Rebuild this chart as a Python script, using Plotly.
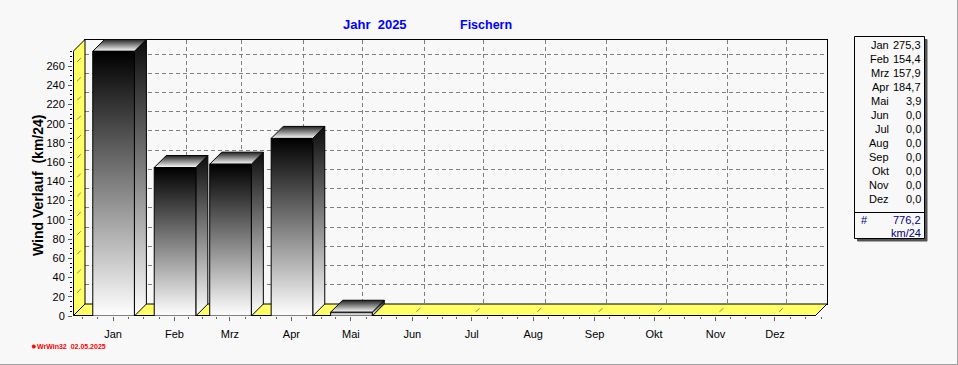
import plotly.graph_objects as go

# ---- data ----
months = ["Jan", "Feb", "Mrz", "Apr", "Mai", "Jun", "Jul", "Aug", "Sep", "Okt", "Nov", "Dez"]
month_start_day = [0, 31, 59, 90, 120, 151, 181, 212, 243, 273, 304, 334]
wind = [275.3, 154.4, 157.9, 184.7, 3.9, 0.0, 0.0, 0.0, 0.0, 0.0, 0.0, 0.0]
total = 776.2
y_ticks = list(range(0, 261, 20))
title_left = "Jahr\u00a0\u00a02025"
title_right = "Fischern"
y_title = "Wind Verlauf\u00a0\u00a0(km/24)"
footer = "WrWin32\u00a0\u00a002.05.2025"
unit = "km/24"

# ---- geometry (pixels) ----
W, H = 958, 365
PX_DAY, PX_UNIT = 1.982, 0.9615
DEPTH = 12
LEFT, RIGHT, BOTTOM, TOP = 73, 815, 316, 51.5
DAY0 = -20.18
dx, dy = DEPTH / PX_DAY, DEPTH / PX_UNIT
DAY1 = DAY0 + (RIGHT - LEFT) / PX_DAY
YMAX = (BOTTOM - TOP) / PX_UNIT
BAR_L, BAR_R = -10.2, 10.8
YELLOW = "#ffff66"
BG = "#f8f8f8"
GRID = "#808080"
MIN_SPAN = 10


def fx(p):
    return p / W


def fy(p):
    return 1 - p / H


fig = go.Figure()
F = dict(xaxis="x2", yaxis="y2", mode="lines", hoverinfo="skip", showlegend=False)

# keeps the back-wall axes alive
fig.add_trace(go.Scatter(x=[DAY0], y=[0], mode="none", hoverinfo="skip", showlegend=False))


def poly(xs, ys, fill=None, grad=None, width=1, color="black"):
    kw = dict(F)
    kw.update(x=xs + xs[:1], y=ys + ys[:1], line=dict(color=color, width=width))
    kw["fill"] = "toself"
    if grad:
        kw["fillgradient"] = dict(type="vertical", colorscale=[[0, grad[2]], [1, grad[3]]],
                                  start=grad[0], stop=grad[1])
    else:
        kw["fillcolor"] = fill
    fig.add_trace(go.Scatter(**kw))


def seg(xs, ys, width=1, color="black", dash="solid"):
    fig.add_trace(go.Scatter(x=xs, y=ys, line=dict(color=color, width=width, dash=dash), **F))


# side wall and floor
poly([DAY0, DAY0 + dx, DAY0 + dx, DAY0], [0, dy, YMAX + dy, YMAX], fill=YELLOW)
poly([DAY0, DAY0 + dx, DAY1 + dx, DAY1], [0, dy, dy, 0], fill=YELLOW)

# short grid stubs on the wall and floor
for v in y_ticks[1:]:
    seg([DAY0 + .35 * dx, DAY0 + .65 * dx], [v + .35 * dy, v + .65 * dy], color=GRID)
for d in month_start_day:
    seg([d + .35 * dx, d + .65 * dx], [.35 * dy, .65 * dy], color=GRID)

# heavy front edges
seg([DAY0, DAY1], [0, 0], width=2)
seg([DAY0, DAY0], [0, YMAX], width=2)

# bars
for d, v in zip(month_start_day, wind):
    if v <= 0:
        continue
    x0, x1 = d + BAR_L, d + BAR_R
    poly([x1, x1 + dx, x1 + dx, x1], [0, dy, v + dy, v], grad=(0, v + dy, "#ffffff", "#0c0c0c"))
    poly([x0, x1, x1 + dx, x0 + dx], [v, v, v + dy, v + dy], grad=(v, v + dy, "#ffffff", "#222222"))
    poly([x0, x1, x1, x0], [0, 0, v, v], grad=(0, max(v, MIN_SPAN), "#ffffff", "#000000"))

# ---- annotations ----
ann = []


def text(px, py, s, anchor="center", size=11, color="black", bold=False, angle=0):
    ann.append(dict(xref="paper", yref="paper", x=fx(px), y=fy(py), text=f"<b>{s}</b>" if bold else s,
                    showarrow=False, xanchor=anchor, yanchor="middle", textangle=angle,
                    font=dict(family="Liberation Sans", size=size, color=color),
                    borderpad=0, borderwidth=0))


text(374.5, 24.5, title_left, size=13, color="#0000ff", bold=True)
text(486, 24.5, title_right, size=12.5, color="#0000ff", bold=True)
text(38, 186, y_title, size=14, bold=True, angle=-90)
text(37, 346.5, footer, anchor="left", size=7, color="#ff0000", bold=True)

LEG_Y0, LEG_STEP = 45, 14.03
for i, (m, v) in enumerate(zip(months, wind)):
    yy = LEG_Y0 + i * LEG_STEP
    text(888.5, yy, m, anchor="right")
    text(920.5, yy, f"{v:.1f}".replace(".", ","), anchor="right")
text(864, 220, "#", color="#000080")
text(920.5, 220, f"{total:.1f}".replace(".", ","), anchor="right", color="#000080")
text(920.5, 232.5, unit, anchor="right", color="#000080")


def rect(x0, y0, x1, y1, fill="rgba(0,0,0,0)", line="black", w=1):
    return dict(type="rect", xref="paper", yref="paper", x0=fx(x0), x1=fx(x1), y0=fy(y0), y1=fy(y1),
                fillcolor=fill, line=dict(color=line, width=w), layer="below")


shapes = [
    rect(857.5, 39.5, 927, 241, fill="#555555", line="#555555"),
    rect(854.5, 36.5, 924.5, 238.5, fill=BG),
    dict(type="line", xref="paper", yref="paper", x0=fx(854.5), x1=fx(924.5), y0=fy(212.5), y1=fy(212.5),
         line=dict(color="black", width=1)),
    dict(type="line", xref="paper", yref="paper", x0=fx(957.5), x1=fx(957.5), y0=0, y1=1,
         line=dict(color="#a0a0a0", width=1)),
    dict(type="line", xref="paper", yref="paper", x0=0, x1=1, y0=fy(364.5), y1=fy(364.5),
         line=dict(color="#a0a0a0", width=1)),
    dict(type="circle", xref="paper", yref="paper", x0=fx(32), x1=fx(35.5), y0=fy(348.3), y1=fy(344.8),
         fillcolor="#ff0000", line=dict(color="#ff0000", width=0.5)),
]

minor_days = []
for a, b in zip(month_start_day, month_start_day[1:] + [month_start_day[-1] + 31]):
    minor_days += [a + (b - a) * k / 4 for k in (1, 2, 3)]
minor_days += [month_start_day[0] - 31 * k / 4 for k in (1, 2)]
minor_vals = [v for v in range(0, 276, 5) if v % 20]

fig.update_layout(
    template="none",
    width=W, height=H, margin=dict(l=0, r=0, t=0, b=0), autosize=False,
    paper_bgcolor=BG, plot_bgcolor="rgba(0,0,0,0)",
    showlegend=False, annotations=ann, shapes=shapes,
    font=dict(family="Liberation Sans", size=11, color="black"),
    # back wall, carries the dashed grid
    xaxis=dict(domain=[fx(LEFT + DEPTH), fx(RIGHT + DEPTH)], range=[DAY0, DAY1], tickmode="array",
               tickvals=month_start_day, showticklabels=False, ticks="", showgrid=True, gridcolor=GRID,
               griddash="4px,3px", gridwidth=1, zeroline=False, showline=True, linecolor="black",
               linewidth=1, mirror=True, automargin=False),
    yaxis=dict(domain=[fy(BOTTOM - DEPTH), fy(TOP - DEPTH)], range=[0, YMAX], tickmode="array",
               tickvals=y_ticks, showticklabels=False, ticks="", showgrid=True, gridcolor=GRID,
               griddash="4px,3px", gridwidth=1, zeroline=False, showline=True, linecolor="black",
               linewidth=1, mirror=True, automargin=False),
    # front plane, carries bars, ticks and labels
    xaxis2=dict(domain=[fx(LEFT), fx(RIGHT + DEPTH)], range=[DAY0, DAY1 + dx], anchor="y2",
                tickmode="array", tickvals=month_start_day, ticktext=months, ticks="outside", ticklen=4,
                tickcolor="#606060", tickwidth=1, showgrid=False, zeroline=False, showline=False,
                ticklabelstandoff=4, tickfont=dict(size=11, family="Liberation Sans"), automargin=False,
                minor=dict(tickmode="array", tickvals=minor_days, ticks="outside", ticklen=2,
                           tickcolor="#606060", showgrid=False)),
    yaxis2=dict(domain=[fy(BOTTOM), fy(TOP - DEPTH)], range=[0, YMAX + dy], anchor="x2",
                tickmode="array", tickvals=y_ticks, ticks="outside", ticklen=4, tickcolor="#606060",
                tickwidth=1, showgrid=False, zeroline=False, showline=False, ticklabelstandoff=1,
                tickfont=dict(size=11, family="Liberation Sans"), automargin=False,
                minor=dict(tickmode="array", tickvals=minor_vals, ticks="outside", ticklen=2,
                           tickcolor="black", showgrid=False)),
)

fig.write_html("out.html", config=dict(displayModeBar=False),
               post_script="document.body.style.margin='0';document.body.style.overflow='hidden';")
